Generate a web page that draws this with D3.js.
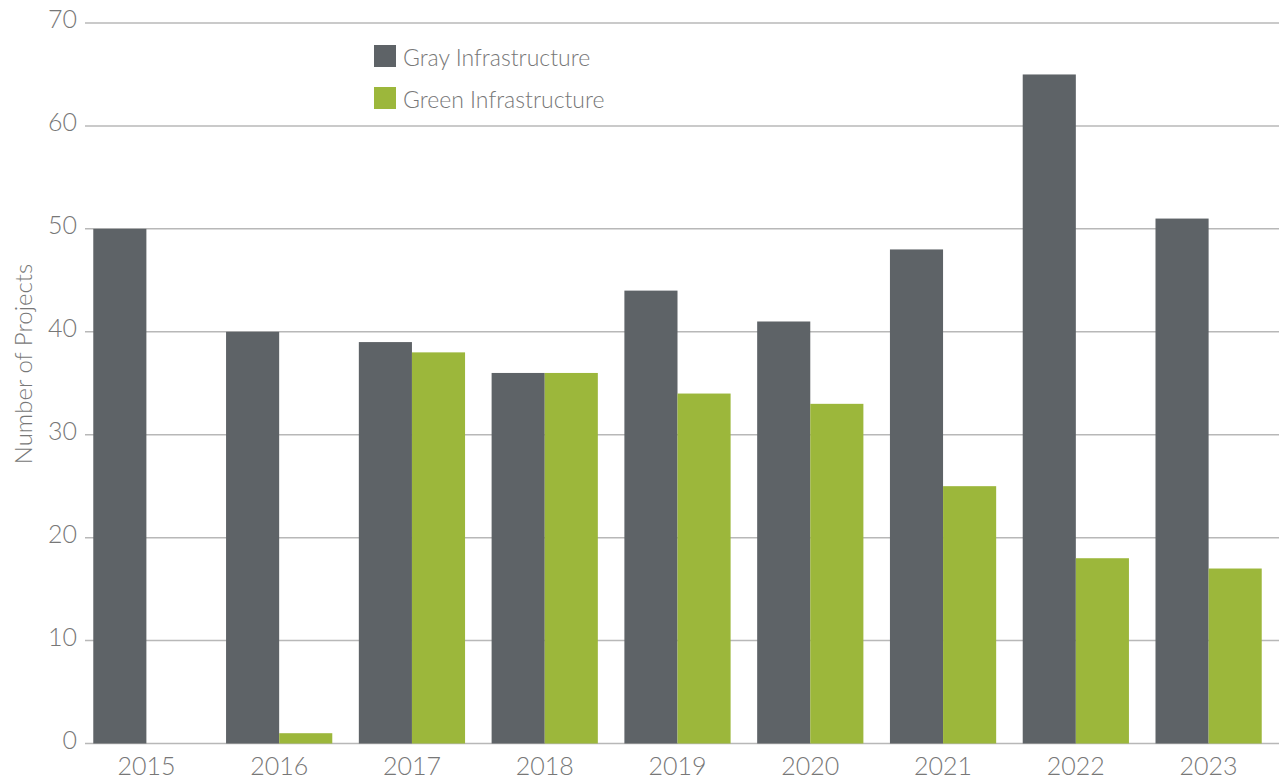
<!DOCTYPE html>
<html>
<head>
<meta charset="utf-8">
<script src="https://cdn.jsdelivr.net/npm/d3@7"></script>
<style>
  body { margin: 0; background: #fff; }
  svg text { font-family: Lato, "Open Sans", sans-serif; font-weight: 300; fill: #777; }
</style>
</head>
<body>
<div id="chart"></div>
<script>
const years = ['2015', '2016', '2017', '2018', '2019', '2020', '2021', '2022', '2023'];
const grayValues = [50, 40, 39, 36, 44, 41, 48, 65, 51];
const greenValues = [0, 1, 38, 36, 34, 33, 25, 18, 17];
const yTicks = [0, 10, 20, 30, 40, 50, 60, 70];
const seriesNames = ['Gray Infrastructure', 'Green Infrastructure'];

const width = 1279, height = 781;
const colors = ['#5e6367', '#9cb73b'];

const svg = d3.select('#chart').append('svg')
    .attr('width', width)
    .attr('height', height);

// Scales
const x = d3.scaleBand()
    .domain(years)
    .range([80, 1275])
    .paddingInner(0.2)
    .paddingOuter(0.1);

const x1 = d3.scaleBand()
    .domain(seriesNames)
    .range([0, x.bandwidth()]);

const y = d3.scaleLinear()
    .domain([0, 70])
    .range([743.5, 23]);

// Gridlines
svg.append('g')
    .selectAll('line')
    .data(yTicks)
    .enter().append('line')
    .attr('x1', 85)
    .attr('x2', width)
    .attr('y1', d => y(d))
    .attr('y2', d => y(d))
    .attr('stroke', '#b8b8b8')
    .attr('stroke-width', 1.5);

// Y tick labels
svg.append('g')
    .selectAll('text')
    .data(yTicks)
    .enter().append('text')
    .attr('x', 77)
    .attr('y', d => y(d) + 5)
    .attr('text-anchor', 'end')
    .style('font-size', '25px')
    .text(d => d);

// Bars
const table = years.map((yr, i) => ({ year: yr, values: [grayValues[i], greenValues[i]] }));

const groups = svg.append('g')
    .selectAll('g')
    .data(table)
    .enter().append('g')
    .attr('transform', d => `translate(${x(d.year)},0)`);

groups.selectAll('rect')
    .data(d => d.values.map((v, j) => ({ key: seriesNames[j], value: v, j })))
    .enter().append('rect')
    .filter(d => d.value > 0)
    .attr('x', d => x1(d.key))
    .attr('width', x1.bandwidth())
    .attr('y', d => y(d.value))
    .attr('height', d => y(0) - y(d.value))
    .attr('fill', d => colors[d.j]);

// X labels
svg.append('g')
    .selectAll('text')
    .data(years)
    .enter().append('text')
    .attr('x', d => x(d) + x.bandwidth() / 2)
    .attr('y', 775)
    .attr('text-anchor', 'middle')
    .style('font-size', '25px')
    .text(d => d);

// Y axis label
svg.append('text')
    .attr('transform', 'translate(32,364) rotate(-90)')
    .attr('text-anchor', 'middle')
    .style('font-size', '24px')
    .text('Number of Projects');

// Legend
const legend = svg.append('g')
    .attr('transform', 'translate(374,45)');

seriesNames.forEach((name, i) => {
    legend.append('rect')
        .attr('x', 0)
        .attr('y', i * 42)
        .attr('width', 22)
        .attr('height', 22)
        .attr('fill', colors[i]);
    legend.append('text')
        .attr('x', 29)
        .attr('y', i * 42 + 21)
        .style('font-size', '23px')
        .text(name);
});
</script>
</body>
</html>
